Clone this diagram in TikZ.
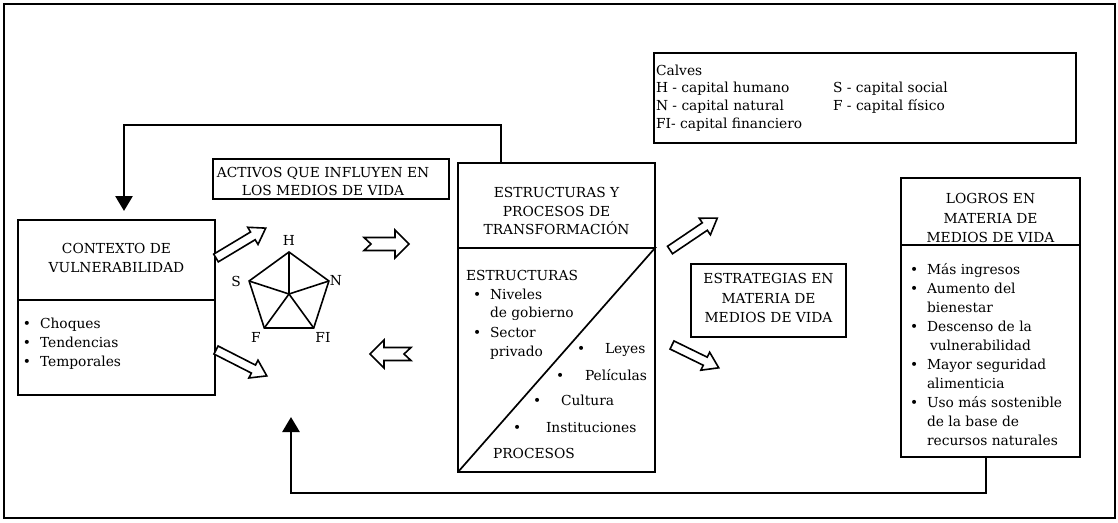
\documentclass[tikz,border=0pt]{standalone}
\usepackage{fontspec}
\setmainfont{DejaVu Serif}
\usetikzlibrary{arrows.meta,calc}
% bullet set in a fixed-width box so the item text starts at a known offset
\newcommand\itemdot[1][17pt]{\makebox[#1][l]{\textbullet}}
\begin{document}
\begin{tikzpicture}[x=1pt,y=-1pt,
  lbl/.style={font=\fontsize{13.8}{18}\selectfont, inner sep=0pt, outer sep=0pt},
  panel/.style={draw, line width=1.7pt, inner sep=0pt, outer sep=0pt},
  rulel/.style={line width=1.7pt},
  feedback/.style={line width=2.8pt, -{Triangle[width=17pt,length=15pt]}},
  hollow/.style={draw, line width=1.6pt, fill=white, line join=miter},
  pics/blockarrow/.style={code={%
    \path[hollow] (0,-4.5) -- (#1-15,-4.5) -- (#1-15,-10) -- (#1,0)
      -- (#1-15,10) -- (#1-15,4.5) -- (0,4.5) -- cycle;}},
  pics/notcharrow/.style={code={%
    \path[hollow] (0,-6.5) -- (#1-14,-6.5) -- (#1-14,-14) -- (#1,0)
      -- (#1-14,14) -- (#1-14,6.5) -- (0,6.5) -- (7,0) -- cycle;}},
]
\useasboundingbox (0,0) rectangle (1118,522);
\draw[line width=2.2pt] (4,4) rectangle (1115,518);

% ---------- panels ----------
\node[panel, minimum width=197pt, minimum height=175pt] (ctx) at (116.5,307.5) {};
\draw[rulel] (ctx.west |- 0,300) -- (ctx.east |- 0,300);

\node[panel, minimum width=236pt, minimum height=40pt] (act) at (331,179) {};

\node[panel, minimum width=197pt, minimum height=309pt] (est) at (556.5,317.5) {};
\draw[rulel] (est.west |- 0,248) -- (est.east |- 0,248) -- (est.south west);

\node[panel, minimum width=155pt, minimum height=73pt] (stg) at (768.5,300.5) {};

\node[panel, minimum width=179pt, minimum height=279pt] (lg) at (990.5,317.5) {};
\draw[rulel] (lg.west |- 0,245) -- (lg.east |- 0,245);

\node[panel, minimum width=422pt, minimum height=90pt] (key) at (865,98) {};

% ---------- feedback loops ----------
\coordinate (fbx) at (124,0);
\coordinate (fbs) at (501,0);
\draw[feedback, shorten >=9pt] (est.north -| fbs) -- (fbs |- 0,125) -| (ctx.north -| fbx);
\coordinate (bx) at (986,0);
\coordinate (assetsin) at (291,417);
\draw[feedback] (lg.south -| bx) -- ++(0,36) -| (assetsin);

% ---------- asset pentagon ----------
\coordinate (pc) at (289,294);
\coordinate (pH) at (289,252);
\coordinate (pN) at (328.9,281);
\coordinate (pFI) at (313.7,328);
\coordinate (pF) at (264.3,328);
\coordinate (pS) at (249.1,281);
\draw[line width=1.6pt, line join=miter] (pH) -- (pN) -- (pFI) -- (pF) -- (pS) -- cycle;
\foreach \v in {pH,pN,pFI,pF,pS} \draw[line width=1.6pt] (pc) -- (\v);
\node[lbl] (lblH) at (289,240) {H};
\node[lbl] (lblS) at (236,281) {S};
\node[lbl] (lblN) at (336,281) {N};
\node[lbl] (lblF) at (256,337) {F};
\node[lbl] (lblFI) at (323,337) {FI};

% ---------- hollow block arrows ----------
\pic[rotate=31] at (216,258) {blockarrow=58};
\pic[rotate=-27] at (216,350) {blockarrow=57};
\pic[rotate=34] at (670,250) {blockarrow=57};
\pic[rotate=-26] at (672,345) {blockarrow=52};
\pic at (364,244) {notcharrow=45};
\pic[rotate=180] at (411,354) {notcharrow=41};

% ---------- texts ----------
\node[lbl, anchor=base] (ctxA) at (116.5,253) {CONTEXTO DE};
\node[lbl, anchor=base] (ctxB) at (116.5,272) {VULNERABILIDAD};
\node[lbl, anchor=base west] (ctxC) at (23,328) {\itemdot Choques};
\node[lbl, anchor=base west] (ctxD) at (23,347) {\itemdot Tendencias};
\node[lbl, anchor=base west] (ctxE) at (23,366) {\itemdot Temporales};

\node[lbl, anchor=base] (actA) at (323,177) {ACTIVOS QUE INFLUYEN EN};
\node[lbl, anchor=base] (actB) at (323,195) {LOS MEDIOS DE VIDA};

\node[lbl, anchor=base] (estA) at (556.5,197) {ESTRUCTURAS Y};
\node[lbl, anchor=base] (estB) at (556.5,216) {PROCESOS DE};
\node[lbl, anchor=base] (estC) at (556.5,234) {TRANSFORMACIÓN};
\node[lbl, anchor=base west] (estD) at (466,280) {ESTRUCTURAS};
\node[lbl, anchor=base west] (estE) at (473,299) {\itemdot Niveles};
\node[lbl, anchor=base west] (estF) at (490,317) {de gobierno};
\node[lbl, anchor=base west] (estG) at (473,337) {\itemdot Sector};
\node[lbl, anchor=base west] (estH) at (490,356) {privado};
\node[lbl, anchor=base west] (estI) at (577,353) {\itemdot[28pt]Leyes};
\node[lbl, anchor=base west] (estJ) at (556,380) {\itemdot[29pt]Películas};
\node[lbl, anchor=base west] (estK) at (533,405) {\itemdot[28pt]Cultura};
\node[lbl, anchor=base west] (estL) at (513,432) {\itemdot[33pt]Instituciones};
\node[lbl, anchor=base west] (estM) at (493,458) {PROCESOS};

\node[lbl, anchor=base] (stgA) at (768.5,283) {ESTRATEGIAS EN};
\node[lbl, anchor=base] (stgB) at (768.5,303) {MATERIA DE};
\node[lbl, anchor=base] (stgC) at (768.5,322) {MEDIOS DE VIDA};

\node[lbl, anchor=base] (lgA) at (990.5,203) {LOGROS EN};
\node[lbl, anchor=base] (lgB) at (990.5,223) {MATERIA DE};
\node[lbl, anchor=base] (lgC) at (990.5,242) {MEDIOS DE VIDA};
\node[lbl, anchor=base west] (lgD) at (910,274) {\itemdot Más ingresos};
\node[lbl, anchor=base west] (lgE) at (910,293) {\itemdot Aumento del};
\node[lbl, anchor=base west] (lgF) at (927,312) {bienestar};
\node[lbl, anchor=base west] (lgG) at (910,331) {\itemdot Descenso de la};
\node[lbl, anchor=base west] (lgH) at (930,350) {vulnerabilidad};
\node[lbl, anchor=base west] (lgI) at (910,369) {\itemdot Mayor seguridad};
\node[lbl, anchor=base west] (lgJ) at (927,388) {alimenticia};
\node[lbl, anchor=base west] (lgK) at (910,407) {\itemdot Uso más sostenible};
\node[lbl, anchor=base west] (lgL) at (927,426) {de la base de};
\node[lbl, anchor=base west] (lgM) at (927,445) {recursos naturales};

\node[lbl, anchor=base west] (keyA) at (656,75) {Calves};
\node[lbl, anchor=base west] (keyB) at (656,92) {H - capital humano};
\node[lbl, anchor=base west] (keyC) at (656,110) {N - capital natural};
\node[lbl, anchor=base west] (keyD) at (656,128) {FI- capital financiero};
\node[lbl, anchor=base west] (keyE) at (833,92) {S - capital social};
\node[lbl, anchor=base west] (keyF) at (833,110) {F - capital físico};
\end{tikzpicture}
\end{document}
